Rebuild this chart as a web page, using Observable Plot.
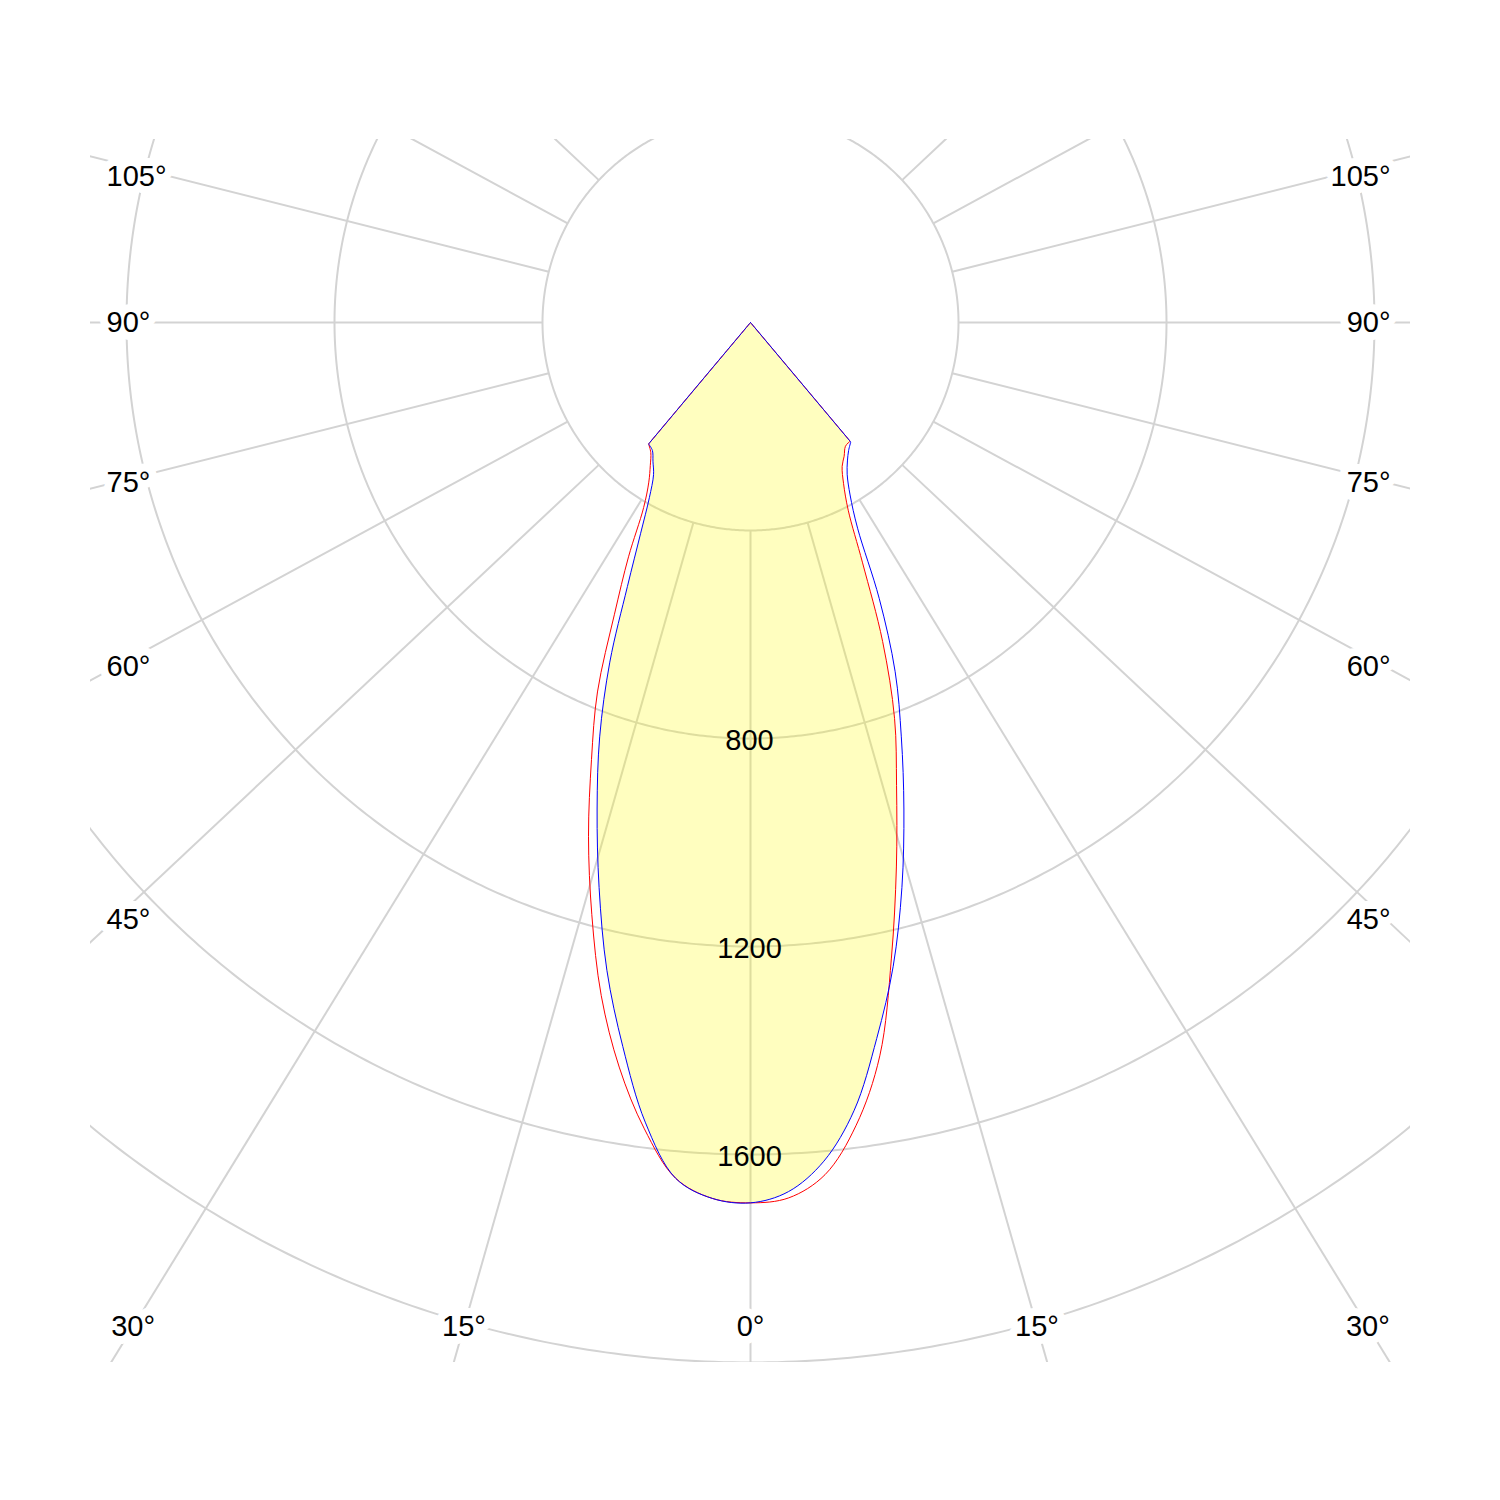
<!DOCTYPE html>
<html>
<head>
<meta charset="utf-8">
<script src="https://cdn.jsdelivr.net/npm/d3@7"></script>
<script src="https://cdn.jsdelivr.net/npm/@observablehq/plot@0.6"></script>
<style>
  html, body { margin: 0; padding: 0; background: #fff; overflow: hidden; }
  #chart svg { display: block; }
</style>
</head>
<body>
<div id="chart"></div>
<script>
// ---- Data (luminous intensity, cd) ----
const gamma = [0, 2.5, 5, 7.5, 10, 12.5, 15, 17.5, 20, 22.5, 25, 27.5, 30, 32.5, 35, 37.5, 40];
// C180 / C0 plane (red)
const redLeft  = [1693, 1686, 1652, 1564, 1454, 1326, 1179, 1036, 894, 769, 619, 508, 411, 364, 336, 315, 305];
const redRight = [1693, 1685, 1645, 1557, 1432, 1252, 1084, 934, 810, 664, 510, 407, 358, 328, 314, 300, 298];
// C270 / C90 plane (blue)
const blueLeft  = [1693, 1686, 1652, 1551, 1414, 1276, 1125, 981, 848, 707, 560, 458, 389, 347, 327, 310, 305];
const blueRight = [1693, 1673, 1619, 1528, 1398, 1268, 1125, 981, 848, 727, 586, 446, 383, 346, 325, 310, 300];

const ringValues = [400, 800, 1200, 1600, 2000];
const ringLabels = [800, 1200, 1600];
const angleLabels = [0, 15, 30, 45, 60, 75, 90, 105];
const spokeAngles = [0, 15, 30, 45, 60, 75, 90, 105, 120, 135];

// ---- Layout ----
const W = 1500, H = 1500;
const mL = 90, mR = 90, mT = 139, mB = 138;
const pxPerCd = 0.52;
const cx = 750, cy = 322;             // pole position in px
const xDom = [(mL - cx) / pxPerCd, (W - mR - cx) / pxPerCd];
const yDom = [(mT - cy) / pxPerCd, (H - mB - cy) / pxPerCd];
const K = 1.065;                        // angular stretch of the spokes

const rad = d => d * Math.PI / 180;
const pt = (g, I, side) => ({x: side * I * Math.sin(rad(g)), y: I * Math.cos(rad(g))});

function outline(left, right) {
  const n = gamma.length;
  const pts = [{x: 0, y: 0}];
  pts.push(pt(gamma[n - 1], left[n - 1], -1));
  for (let i = n - 1; i >= 1; i--) pts.push(pt(gamma[i], left[i], -1));
  pts.push(pt(0, (left[0] + right[0]) / 2, 1));
  for (let i = 1; i < n; i++) pts.push(pt(gamma[i], right[i], 1));
  pts.push(pt(gamma[n - 1], right[n - 1], 1));
  pts.push({x: 0, y: 0});
  return pts;
}
const fillLeft = blueLeft.map((v, i) => Math.min(v, redLeft[i]));
const fillRight = blueRight.map((v, i) => Math.min(v, redRight[i]));

const redPts = outline(redLeft, redRight);
const bluePts = outline(blueLeft, blueRight);
const fillPts = outline(fillLeft, fillRight);

// grid circles
const circlePts = [];
for (const r of ringValues) {
  for (let a = 0; a <= 360; a += 0.5) circlePts.push({r, x: r * Math.sin(rad(a)), y: r * Math.cos(rad(a))});
}
// spokes (both sides)
const spokes = [];
for (const a of spokeAngles) {
  for (const side of (a === 0 ? [1] : [-1, 1])) {
    const dx = side * K * Math.sin(rad(a)), dy = Math.cos(rad(a));
    const n = Math.hypot(dx, dy);
    spokes.push({x1: 400 * dx / n, y1: 400 * dy / n, x2: 4000 * dx / n, y2: 4000 * dy / n});
  }
}

// angle labels
const sideOff = 597 / pxPerCd;
const bottomY = (1326 - cy) / pxPerCd;
const leftX = (106 - cx) / pxPerCd, rightX = (1390 - cx) / pxPerCd;
const halfLine = 14 / pxPerCd;
const labels = [];
for (const a of angleLabels) {
  const t = a + "°";
  if (a <= 30) {
    const x = bottomY * K * Math.tan(rad(a));
    labels.push({x: -x, y: bottomY, t, anchor: "middle"});
    if (a > 0) labels.push({x: x, y: bottomY, t, anchor: "middle"});
  } else {
    // labels above the horizontal sit just below their spoke
    const y = sideOff * Math.cos(rad(a)) / Math.sin(rad(a)) + (a > 90 ? halfLine : 0);
    labels.push({x: leftX, y, t, anchor: "start"});
    labels.push({x: rightX, y, t, anchor: "end"});
  }
}

const font = "'Liberation Sans', Arial, Helvetica, sans-serif";
const grid = "#d3d3d3";
const fs = 29;

const chart = Plot.plot({
  width: W, height: H,
  marginLeft: mL, marginRight: mR, marginTop: mT, marginBottom: mB,
  x: {domain: xDom, axis: null},
  y: {domain: yDom, reverse: true, axis: null},
  style: {fontFamily: font, background: "white"},
  marks: [
    Plot.line(circlePts, {x: "x", y: "y", z: "r", stroke: grid, strokeWidth: 2, clip: true}),
    Plot.link(spokes, {x1: "x1", y1: "y1", x2: "x2", y2: "y2", stroke: grid, strokeWidth: 2, clip: true}),
    Plot.line(fillPts, {x: "x", y: "y", curve: "catmull-rom", stroke: "none", fill: "rgb(255,250,0)", fillOpacity: 0.25}),
    Plot.line(redPts, {x: "x", y: "y", curve: "catmull-rom", stroke: "red", strokeWidth: 1}),
    Plot.line(bluePts, {x: "x", y: "y", curve: "catmull-rom", stroke: "blue", strokeWidth: 1}),
    Plot.text(ringLabels, {x: () => 0, y: d => d, text: d => String(d), fontSize: fs, fill: "black", dy: 2, dx: -1, fontFamily: font}),
    Plot.text(labels.filter(d => d.anchor === "middle"), {x: "x", y: "y", text: "t", textAnchor: "middle", fontSize: fs, fill: "black", stroke: "white", strokeWidth: 16, fontFamily: font}),
    Plot.text(labels.filter(d => d.anchor === "start"), {x: "x", y: "y", text: "t", textAnchor: "start", fontSize: fs, fill: "black", stroke: "white", strokeWidth: 16, fontFamily: font}),
    Plot.text(labels.filter(d => d.anchor === "end"), {x: "x", y: "y", text: "t", textAnchor: "end", fontSize: fs, fill: "black", stroke: "white", strokeWidth: 16, fontFamily: font})
  ]
});
document.getElementById("chart").appendChild(chart);
</script>
</body>
</html>
